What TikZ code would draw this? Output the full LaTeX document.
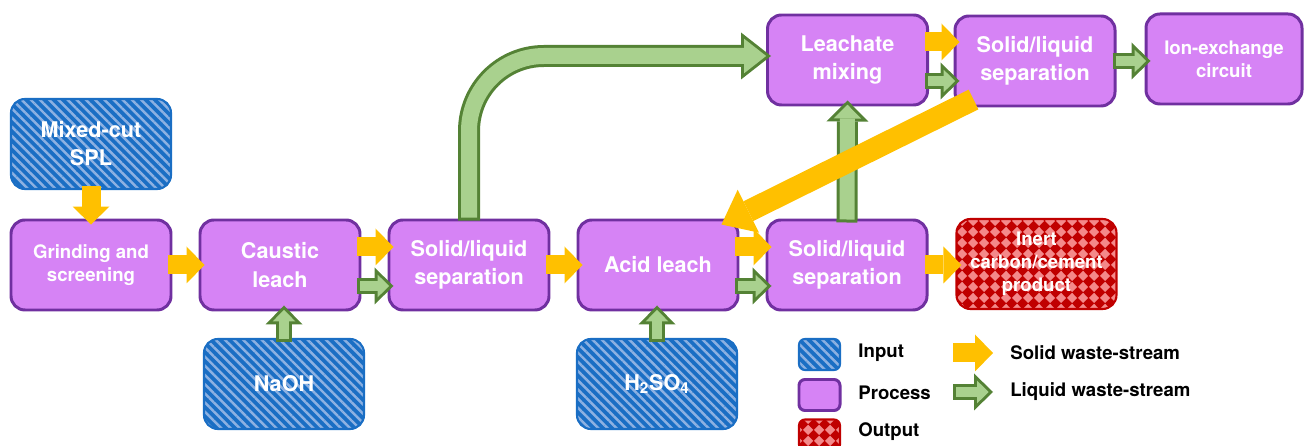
\documentclass[tikz,border=0pt]{standalone}
\usepackage{fontspec}
\setmainfont{TeX Gyre Heros}
\usepackage{tikz}
\usetikzlibrary{arrows.meta,patterns.meta}

\definecolor{procfill}{HTML}{D683F5}
\definecolor{procline}{HTML}{7030A0}
\definecolor{inblue}{HTML}{1A6EC4}
\definecolor{instripe}{HTML}{8DB1E2}
\definecolor{outred}{HTML}{C00000}
\definecolor{outpink}{HTML}{F4898A}
\definecolor{solidcol}{HTML}{FFC000}
\definecolor{liqfill}{HTML}{A9D18E}
\definecolor{liqdark}{HTML}{548235}

\tikzdeclarepattern{
  name=diamondgrid,
  type=uncolored,
  bottom left={(0pt,0pt)},
  top right={(6.26pt,6.26pt)},
  tile size={(6.26pt,6.26pt)},
  code={\fill (3.13pt,0pt) -- (6.26pt,3.13pt) -- (3.13pt,6.26pt) -- (0pt,3.13pt) -- cycle;}
}

\tikzset{
  bigtext/.style={font=\fontsize{12.3}{16}\selectfont\bfseries},
  smalltext/.style={font=\fontsize{10.6}{13}\selectfont\bfseries},
}

% liquid stream: dark outline first, light core on top
\newcommand{\liqflow}[2][liq]{\draw[#1edge] #2; \draw[#1core] #2;}

\begin{document}
\begin{tikzpicture}[
    box/.style={rounded corners=0.28cm, minimum width=3.2cm, minimum height=1.8cm,
      align=center, text=white, inner sep=0pt},
    procbox/.style={box, draw=procline, line width=1.7pt, fill=procfill},
    inbox/.style={box, draw=inblue, line width=1.2pt, preaction={fill=inblue},
      pattern={Lines[angle=-45,distance=3.7pt,line width=1.4pt]}, pattern color=instripe},
    outbox/.style={box, draw=outred, line width=1.2pt, preaction={fill=outred},
      pattern=diamondgrid, pattern color=outpink},
    keybox/.style={rounded corners=0.12cm, minimum width=0.82cm, minimum height=0.62cm},
    keytext/.style={anchor=west, inner sep=0pt, text=black,
      font=\fontsize{10.6}{13}\selectfont\bfseries},
    solidflow/.style={draw=solidcol, line width=0.38cm, shorten <=-0.08cm, shorten >=-0.12cm,
      -{Triangle[length=0.36cm,width=0.74cm,line width=0pt]}},
    bigsolid/.style={draw=solidcol, line width=0.44cm,
      -{Triangle[length=0.6cm,width=0.96cm,line width=0pt]}},
    liqedge/.style={draw=liqdark, line width=0.32cm, shorten <=-0.08cm, shorten >=-0.12cm,
      -{Triangle[length=0.38cm,width=0.74cm,line width=0pt]}},
    liqcore/.style={draw=liqfill, line width=0.2cm, shorten <=-0.02cm, shorten >=-0.034cm,
      -{Triangle[length=0.234cm,width=0.456cm,line width=0pt]}},
    midedge/.style={draw=liqdark, line width=0.42cm, shorten <=-0.08cm, shorten >=-0.12cm,
      -{Triangle[length=0.42cm,width=0.84cm,line width=0pt]}},
    midcore/.style={draw=liqfill, line width=0.3cm, shorten <=-0.02cm, shorten >=-0.035cm,
      -{Triangle[length=0.275cm,width=0.55cm,line width=0pt]}},
    bigedge/.style={draw=liqdark, line width=0.44cm, rounded corners=1.5cm,
      shorten <=-0.04cm, shorten >=-0.1cm,
      -{Triangle[length=0.6cm,width=0.94cm,line width=0pt]}},
    bigcore/.style={draw=liqfill, line width=0.32cm, rounded corners=1.5cm,
      shorten <=0.02cm, shorten >=-0.003cm,
      -{Triangle[length=0.443cm,width=0.694cm,line width=0pt]}},
    ]
    \useasboundingbox (0,0) rectangle (26.14,8.92);

    % boxes
    \node[inbox, bigtext] (mixcut) at (1.82,6.04) {Mixed-cut\\SPL};
    \node[procbox, smalltext] (grind) at (1.82,3.62) {Grinding and\\screening};
    \node[procbox, bigtext] (caustic) at (5.6,3.62) {Caustic\\leach};
    \node[procbox, bigtext] (sepA) at (9.38,3.62) {Solid/liquid\\separation};
    \node[procbox, bigtext] (acid) at (13.16,3.62) {Acid leach};
    \node[procbox, bigtext] (sepB) at (16.94,3.62) {Solid/liquid\\separation};
    \node[outbox, smalltext] (inert) at (20.73,3.64) {Inert\\carbon/cement\\product};
    \node[inbox, bigtext] (naoh) at (5.68,1.24) {NaOH};
    \node[inbox, bigtext] (hsulf) at (13.14,1.24) {H\textsubscript{2}SO\textsubscript{4}};
    \node[procbox, bigtext] (mixing) at (16.95,7.72) {Leachate\\mixing};
    \node[procbox, bigtext] (sepC) at (20.7,7.7) {Solid/liquid\\separation};
    \node[procbox, smalltext, minimum width=3.12cm] (ionex) at (24.48,7.74) {Ion-exchange\\circuit};

    % liquid streams
    \liqflow{([yshift=-0.42cm]caustic.east) -- ([yshift=-0.42cm]sepA.west)}
    \liqflow{([yshift=-0.42cm]acid.east) -- ([yshift=-0.42cm]sepB.west)}
    \liqflow{([yshift=-0.42cm]mixing.east) -- ([yshift=-0.42cm]mixing.east -| sepC.west)}
    \liqflow{(sepC.east) -- (sepC.east -| ionex.west)}
    \liqflow{(naoh.north) -- (naoh.north |- caustic.south)}
    \liqflow{(hsulf.north) -- (hsulf.north |- acid.south)}
    \liqflow[mid]{(sepB.north) -- (mixing.south)}
    \liqflow[big]{(sepA.north) |- ([yshift=0.08cm]mixing.west)}

    % solid streams
    \draw[solidflow] (mixcut.south) -- (grind.north);
    \draw[solidflow] (grind.east) -- (caustic.west);
    \draw[solidflow] ([yshift=0.36cm]caustic.east) -- ([yshift=0.36cm]sepA.west);
    \draw[solidflow] (sepA.east) -- (acid.west);
    \draw[solidflow] ([yshift=0.36cm]acid.east) -- ([yshift=0.36cm]sepB.west);
    \draw[solidflow] (sepB.east) -- (sepB.east -| inert.west);
    \draw[solidflow] ([yshift=0.36cm]mixing.east) -- ([yshift=0.36cm]mixing.east -| sepC.west);
    \draw[bigsolid] ([shift={(0.4,0.16)}]sepC.south west) -- ([shift={(-0.36,-0.12)}]acid.north east);

    % key
    \node[inbox, keybox] (keyin) at (16.39,1.83) {};
    \node[procbox, keybox] (keyproc) at (16.39,1.02) {};
    \node[outbox, keybox] (keyout) at (16.39,0.22) {};
    \node[keytext] (keyintext) at (17.16,1.86) {Input};
    \node[keytext] (keyproctext) at (17.16,1.06) {Process};
    \node[keytext] (keyouttext) at (17.16,0.28) {Output};
    \coordinate (solidkey) at (19.14,1.86);
    \coordinate (solidkeyend) at (19.74,1.86);
    \coordinate (liqkey) at (19.14,1.08);
    \coordinate (liqkeyend) at (19.74,1.08);
    \draw[solidflow] (solidkey) -- (solidkeyend);
    \liqflow{(liqkey) -- (liqkeyend)}
    \node[keytext] (solidtext) at (20.2,1.86) {Solid waste-stream};
    \node[keytext] (liqtext) at (20.2,1.08) {Liquid waste-stream};
  \end{tikzpicture}
\end{document}
